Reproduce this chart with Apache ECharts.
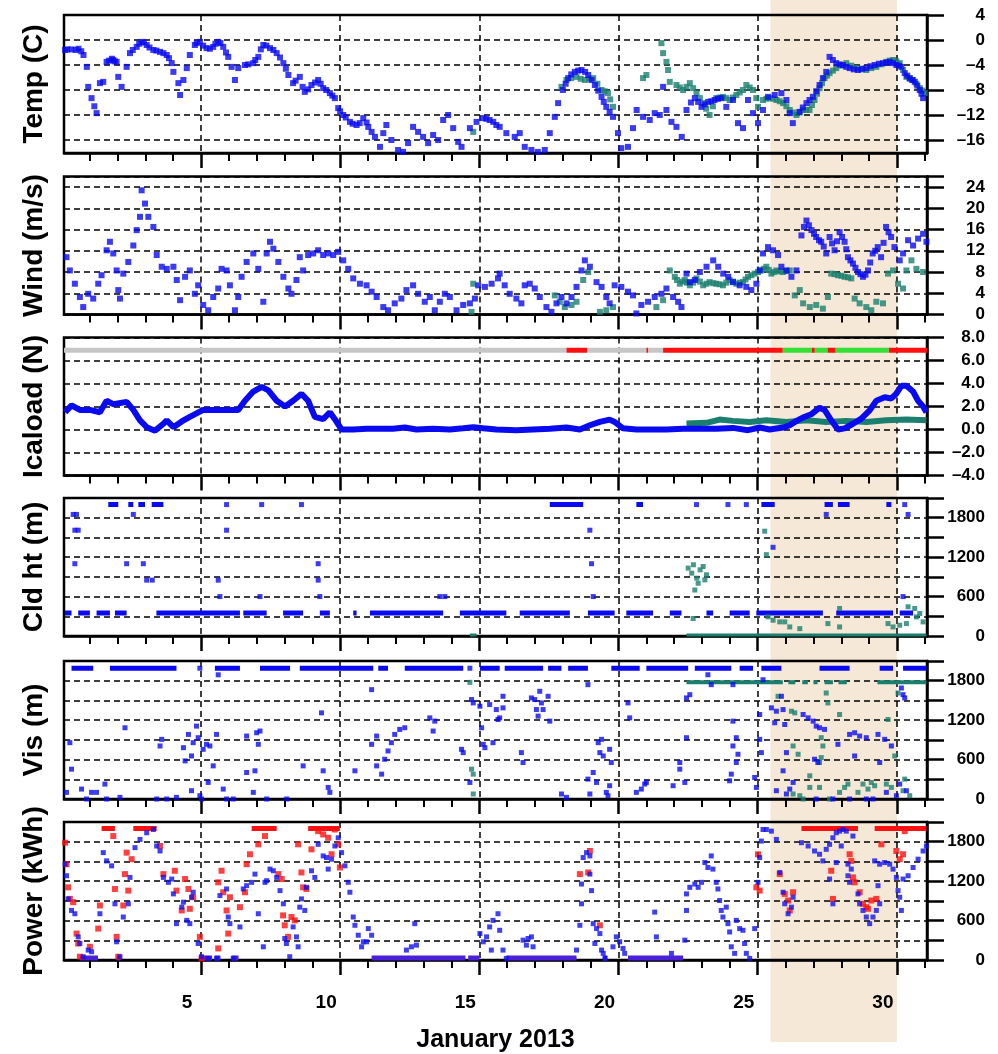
<!DOCTYPE html>
<html><head><meta charset="utf-8">
<script src="https://cdn.jsdelivr.net/npm/echarts@6/dist/echarts.min.js"></script>
<style>html,body{margin:0;padding:0;background:#fff}#c{width:998px;height:1054px}</style>
</head><body><div id="c"></div>
<script>
// ---------------- DATA ----------------
const dayTicks = [5, 10, 15, 20, 25, 30];
const dayRange = [0.08, 31.08];
const shadeDays = [25.46, 30.0];
const panelNames = ['Temp (C)', 'Wind (m/s)', 'Icaload (N)', 'Cld ht (m)', 'Vis (m)', 'Power (kWh)'];
const tempTicks = [-16, -12, -8, -4, 0, 4];
const windTicks = [0, 4, 8, 12, 16, 20, 24];
const iceTicks = [-4, -2, 0, 2, 4, 6, 8];
const hundredsTicks = [0, 300, 600, 900, 1200, 1500, 1800];
const hundredsLabels = [0, 600, 1200, 1800];

const tempObs = [[0.12,-1.6],[0.2,-1.5],[0.35,-1.5],[0.5,-1.6],[0.6,-1.4],[0.7,-1.8],[0.78,-2.4],[0.9,-4.3],[0.95,-7.5],[1.07,-9.3],[1.17,-10.6],[1.25,-11.7],[1.37,-6.9],[1.49,-6.7],[1.61,-3.5],[1.7,-3.3],[1.8,-3.0],[1.85,-3.2],[1.9,-3.4],[1.97,-3.5],[2.03,-5.9],[2.15,-7.5],[2.33,-4.3],[2.45,-2.1],[2.55,-1.6],[2.69,-1.1],[2.78,-0.6],[2.87,-0.3],[2.95,-0.4],[3.05,-0.8],[3.15,-1.2],[3.29,-1.6],[3.4,-1.7],[3.53,-1.9],[3.65,-2.1],[3.77,-2.4],[3.85,-2.9],[3.95,-3.7],[4.01,-5.1],[4.19,-6.9],[4.25,-8.8],[4.37,-6.4],[4.49,-4.5],[4.6,-2.4],[4.78,-0.8],[4.85,-0.5],[4.96,-0.3],[5.08,-0.9],[5.2,-1.3],[5.32,-1.4],[5.44,-1.1],[5.52,-0.6],[5.62,-0.3],[5.7,-0.5],[5.8,-1.1],[5.9,-2.0],[5.98,-2.7],[6.1,-4.3],[6.22,-6.4],[6.34,-4.5],[6.58,-4.0],[6.7,-3.9],[6.88,-3.7],[6.95,-3.2],[7.06,-2.7],[7.15,-1.5],[7.24,-0.8],[7.35,-0.9],[7.48,-1.3],[7.6,-1.6],[7.72,-2.1],[7.84,-2.8],[7.96,-3.7],[8.05,-4.6],[8.14,-5.6],[8.31,-6.9],[8.4,-6.5],[8.55,-5.9],[8.65,-7.5],[8.73,-8.3],[8.85,-7.9],[8.97,-7.2],[9.1,-6.8],[9.21,-6.4],[9.3,-7.0],[9.39,-7.7],[9.5,-8.0],[9.63,-8.5],[9.72,-8.9],[9.81,-9.3],[9.93,-10.9],[10.0,-11.4],[10.11,-12],[10.2,-12.4],[10.35,-13.1],[10.45,-13.4],[10.59,-13.6],[10.7,-13.3],[10.83,-12.5],[10.95,-13.2],[11.01,-13.9],[11.13,-14.7],[11.25,-15.5],[11.43,-17.1],[11.55,-14.9],[11.66,-13.6],[11.84,-16],[12.08,-17.6],[12.26,-17.9],[12.44,-16.5],[12.62,-13.9],[12.8,-14.7],[12.98,-15.5],[13.16,-16.5],[13.34,-15.2],[13.52,-16],[13.7,-12.8],[13.88,-12],[14.06,-14.1],[14.24,-16.3],[14.36,-17.1],[14.66,-14.1],[14.9,-13.1],[15.14,-12.5],[15.25,-12.6],[15.37,-12.8],[15.5,-13.1],[15.61,-13.6],[15.73,-13.9],[15.97,-14.9],[16.27,-15.5],[16.45,-14.9],[16.63,-17.1],[16.87,-17.6],[17.1,-17.9],[17.35,-17.6],[17.53,-14.9],[17.71,-12.3],[17.83,-10.1],[18.0,-8],[18.1,-7],[18.19,-6.1],[18.3,-5.5],[18.43,-5.1],[18.55,-4.9],[18.67,-4.8],[18.8,-5.1],[18.91,-5.6],[19.03,-6.4],[19.15,-7.2],[19.27,-8.1],[19.39,-9.1],[19.47,-9.9],[19.56,-10.7],[19.68,-11.5],[19.8,-12.3],[19.98,-14.9],[20.1,-17.3],[20.34,-17.1],[20.52,-14.1],[20.65,-11.2],[20.88,-12.3],[21.12,-12.8],[21.3,-11.7],[21.48,-12],[21.6,-7.5],[21.72,-11.2],[21.9,-13.1],[22.08,-13.9],[22.27,-15.5],[22.44,-11.2],[22.6,-10],[22.74,-9.3],[22.86,-9.9],[22.98,-10.7],[23.1,-10.3],[23.22,-9.9],[23.33,-9.8],[23.45,-9.6],[23.57,-9.4],[23.69,-9.3],[23.87,-10.7],[24.11,-9.6],[24.29,-13.3],[24.47,-14.1],[24.65,-9.6],[24.83,-11.7],[25.01,-13.3],[25.19,-11.2],[25.37,-9.1],[25.61,-8.8],[25.85,-8.5],[26.03,-9.6],[26.15,-11.7],[26.26,-13.3],[26.5,-11.5],[26.62,-10.8],[26.75,-10.1],[26.86,-9.6],[26.98,-9.1],[27.1,-8.2],[27.22,-7.2],[27.34,-6.1],[27.46,-5.1],[27.58,-2.7],[27.7,-3.2],[27.82,-3.7],[27.94,-3.9],[28.06,-4.0],[28.18,-4.3],[28.3,-4.5],[28.45,-4.7],[28.6,-4.8],[28.75,-4.6],[28.9,-4.5],[29.05,-4.2],[29.2,-4.0],[29.35,-3.8],[29.5,-3.7],[29.62,-3.6],[29.74,-3.5],[29.86,-3.7],[29.98,-4.0],[30.07,-4.1],[30.16,-4.3],[30.28,-5.3],[30.37,-5.7],[30.46,-6.1],[30.55,-6.4],[30.64,-6.7],[30.73,-7.3],[30.82,-8],[30.88,-8.6],[30.94,-9.3]];
const tempModel = [[14.78,-14.7],[17.95,-7.5],[18.13,-6.4],[18.3,-6.1],[18.49,-5.9],[18.64,-6.2],[18.79,-6.4],[18.94,-6.2],[19.09,-6.1],[19.24,-7.0],[19.39,-8],[19.5,-8.2],[19.62,-8.5],[19.7,-9.5],[19.8,-10.7],[20.88,-6.1],[21.0,-5.6],[21.54,-0.5],[21.6,-2.1],[21.72,-3.5],[21.78,-4.8],[21.84,-6.7],[22.08,-7.2],[22.2,-7.6],[22.32,-8],[22.44,-7.5],[22.56,-6.9],[22.68,-7.7],[22.8,-8.5],[22.92,-9.3],[23.04,-10.1],[23.15,-11],[23.27,-12],[23.39,-10.6],[23.51,-9.3],[23.63,-9.2],[23.75,-9.1],[23.87,-9.3],[23.99,-9.6],[24.11,-9.2],[24.23,-8.8],[24.35,-8.4],[24.47,-8],[24.59,-7.2],[24.71,-7.6],[24.83,-8],[24.95,-9.3],[25.01,-10.7],[25.19,-9.6],[25.31,-9.4],[25.43,-9.3],[25.55,-9.4],[25.67,-9.6],[25.79,-9.8],[25.91,-10.1],[26.03,-10.6],[26.15,-11.2],[26.27,-11.6],[26.39,-12],[26.5,-11.6],[26.62,-11.2],[26.74,-11.2],[26.86,-11.2],[26.95,-10.4],[27.04,-9.6],[27.13,-8.6],[27.22,-7.7],[27.31,-6.9],[27.4,-6.1],[27.49,-5.7],[27.58,-5.3],[27.7,-4.9],[27.82,-4.5],[28.0,-4.1],[28.18,-3.7],[28.36,-4.1],[28.54,-4.5],[28.72,-4.7],[28.9,-4.8],[29.08,-4.5],[29.26,-4.3],[29.44,-3.9],[29.62,-3.5],[29.74,-3.3],[29.86,-3.2],[29.98,-3.4],[30.1,-3.7],[30.22,-4.8],[30.34,-5.9],[30.46,-6.2],[30.58,-6.4],[30.7,-7.0],[30.82,-7.7],[30.91,-8.1],[31.0,-8.5]];

const windObs = [[0.17,10.8],[0.29,8.3],[0.47,5.8],[0.65,3.3],[0.77,1.4],[0.95,3.9],[1.13,3.0],[1.31,5.8],[1.43,7.4],[1.61,12.1],[1.73,13.7],[1.85,11.5],[1.97,8.3],[2.03,4.6],[2.09,3.0],[2.21,7.7],[2.39,9.9],[2.57,13.0],[2.69,15.9],[2.81,18.4],[2.87,23.4],[2.99,20.9],[3.11,18.4],[3.29,16.5],[3.41,11.2],[3.59,9.0],[3.77,8.6],[4.01,9.0],[4.13,6.5],[4.25,2.7],[4.43,7.1],[4.6,8.3],[4.78,3.9],[4.9,5.5],[5.08,1.8],[5.26,0.8],[5.44,3.3],[5.62,4.9],[5.74,8.6],[5.92,8.3],[6.04,5.5],[6.22,0.8],[6.34,3.3],[6.46,7.1],[6.64,9.9],[6.88,11.5],[7.06,8.6],[7.24,2.4],[7.36,11.5],[7.48,13.7],[7.6,12.4],[7.78,9.9],[7.96,7.1],[8.14,4.9],[8.25,3.9],[8.43,6.5],[8.55,10.8],[8.67,8.3],[8.85,11.2],[9.03,11.5],[9.21,12.1],[9.39,11.2],[9.57,11.5],[9.75,11.2],[9.93,11.8],[10.11,10.2],[10.29,8.6],[10.47,6.8],[10.71,5.8],[10.95,5.5],[11.13,4.3],[11.31,3.3],[11.55,1.4],[11.72,0.8],[11.96,2.1],[12.2,3.0],[12.38,4.6],[12.62,5.5],[12.8,3.9],[13.04,2.4],[13.22,3.3],[13.4,0.8],[13.58,2.4],[13.76,3.9],[13.94,3.3],[14.18,0.8],[14.42,1.8],[14.66,2.1],[14.84,3.0],[14.96,5.5],[15.2,5.2],[15.44,5.8],[15.67,6.8],[15.73,7.7],[15.91,5.5],[16.09,3.9],[16.33,3.0],[16.51,2.1],[16.63,5.5],[16.81,5.8],[16.99,4.9],[17.17,3.3],[17.41,1.4],[17.59,0.5],[17.77,2.1],[17.95,3.3],[18.13,2.1],[18.31,3.3],[18.49,5.2],[18.67,8.3],[18.79,10.2],[18.97,9.0],[19.21,6.1],[19.39,5.2],[19.56,3.3],[19.68,2.1],[19.86,5.5],[20.1,5.2],[20.34,4.3],[20.52,3.6],[20.64,0.2],[20.82,1.8],[21.06,2.4],[21.3,3.3],[21.54,3.9],[21.72,4.9],[21.96,3.3],[22.14,2.4],[22.26,1.4],[22.44,7.7],[22.56,6.1],[22.74,6.5],[22.92,8.0],[23.16,9.0],[23.4,10.2],[23.58,9.0],[23.76,7.7],[23.94,7.1],[24.11,6.1],[24.35,5.5],[24.59,5.2],[24.77,4.6],[24.95,5.8],[25.07,8.3],[25.19,11.5],[25.37,12.7],[25.55,12.1],[25.73,11.2],[25.85,9.0],[26.03,8.3],[26.21,7.1],[26.39,8.3],[26.57,14.9],[26.66,16.5],[26.75,17.7],[26.84,16.8],[26.93,15.9],[27.02,15.2],[27.1,14.6],[27.2,14.0],[27.28,13.7],[27.37,12.8],[27.46,11.5],[27.58,14.6],[27.67,13.4],[27.76,12.1],[27.85,13.8],[27.94,15.5],[28.03,14.6],[28.12,13.7],[28.18,12.3],[28.24,10.8],[28.33,10.2],[28.42,9.6],[28.51,8.8],[28.6,8.0],[28.69,7.6],[28.78,7.1],[28.87,7.5],[28.96,8.3],[29.04,9.8],[29.13,11.5],[29.22,12.0],[29.31,12.7],[29.43,10.8],[29.52,13.5],[29.61,16.5],[29.7,15.5],[29.79,14.6],[29.91,12.7],[30.1,10.2],[30.22,11.5],[30.4,14.0],[30.58,13.0],[30.76,14.3],[30.94,15.2],[31.06,13.7]];
const windModel = [[14.72,0.5],[14.78,5.8],[17.71,3.6],[17.89,2.4],[18.07,1.4],[18.31,1.8],[18.49,2.4],[18.73,6.5],[18.91,8.0],[19.33,0.5],[19.56,0.8],[19.8,1.4],[21.36,1.4],[21.6,2.7],[21.84,8.3],[22.02,7.1],[22.1,6.5],[22.2,5.8],[22.3,6.2],[22.38,6.5],[22.46,6.0],[22.56,5.5],[22.68,6.0],[22.8,6.8],[22.92,6.2],[23.04,5.5],[23.16,5.8],[23.27,6.1],[23.4,5.9],[23.51,5.8],[23.63,5.7],[23.75,5.5],[23.87,6.0],[23.99,6.5],[24.11,6.2],[24.23,5.8],[24.35,6.0],[24.47,6.1],[24.56,6.6],[24.65,7.1],[24.77,7.4],[24.89,7.7],[25.01,8.0],[25.13,8.3],[25.22,8.6],[25.31,9.0],[25.4,8.4],[25.49,7.7],[25.58,8.0],[25.67,8.3],[25.79,8.1],[25.91,8.0],[26.03,8.2],[26.15,8.3],[26.33,3.6],[26.51,4.6],[26.63,2.1],[26.87,1.4],[27.1,1.8],[27.34,1.1],[27.52,3.3],[27.64,7.7],[27.76,7.6],[27.88,7.4],[28.0,7.3],[28.12,7.1],[28.24,7.0],[28.36,6.8],[28.48,3.0],[28.66,2.1],[28.9,1.4],[29.08,0.8],[29.26,2.4],[29.5,2.1],[29.68,7.7],[29.86,8.3],[30.04,5.8],[30.22,4.9],[30.34,8.3],[30.52,10.2],[30.7,8.6],[30.94,8.0]];

const iceObs = [[0.12,1.5],[0.35,2.1],[0.65,1.7],[1.01,1.7],[1.37,1.5],[1.61,2.5],[1.85,2.2],[2.33,2.4],[2.57,1.7],[2.81,0.8],[3.05,0.2],[3.35,-0.1],[3.65,0.5],[3.77,0.8],[4.01,0.2],[4.31,0.7],[4.6,1.1],[4.84,1.4],[5.08,1.7],[5.56,1.7],[6.04,1.7],[6.34,1.7],[6.58,2.5],[6.88,3.3],[7.18,3.7],[7.42,3.4],[7.72,2.5],[8.02,2.0],[8.31,2.5],[8.61,3.1],[8.85,2.5],[9.09,1.1],[9.39,0.9],[9.63,1.5],[9.81,0.9],[10.05,0.0],[10.47,0.0],[10.95,0.06],[11.43,0.06],[11.9,0.06],[12.32,0.17],[12.74,0.0],[13.34,0.06],[13.94,0.0],[14.42,0.1],[14.78,0.2],[15.14,0.1],[15.61,0.0],[16.33,-0.06],[16.93,0.0],[17.53,0.06],[18.13,0.17],[18.61,0.0],[18.97,0.37],[19.33,0.66],[19.68,0.86],[19.86,0.66],[20.16,0.1],[20.64,0.0],[21.12,0.0],[21.72,0.0],[22.32,0.06],[22.92,0.06],[23.51,0.06],[24.11,0.14],[24.65,-0.06],[25.07,0.17],[25.43,0.0],[25.91,0.17],[26.15,0.37],[26.39,0.75],[26.62,1.04],[26.92,1.32],[27.22,1.9],[27.4,1.7],[27.64,0.8],[27.88,0.0],[28.12,0.1],[28.42,0.5],[28.72,0.95],[29.02,1.67],[29.26,2.5],[29.56,2.8],[29.8,2.7],[29.97,3.1],[30.16,3.8],[30.34,3.8],[30.58,3.3],[30.76,2.5],[30.94,2.0],[31.06,1.5]];
const iceModel = [[22.44,0.52],[23.16,0.58],[23.63,0.86],[24.11,0.75],[24.71,0.66],[25.31,0.8],[26.03,0.66],[26.75,0.8],[27.46,0.66],[28.18,0.75],[28.9,0.66],[29.61,0.8],[30.34,0.86],[31.06,0.8]];
// icing status bar: day boundaries and state per interval (0 no data, 1 iced, 2 clear)
const statusBreaks = [0.08, 18.13, 18.87, 21.0, 21.06, 21.6, 25.9, 26.93, 27.05, 27.5, 27.8, 29.7, 31.08];
const statusCodes = [0, 1, 0, 1, 0, 1, 2, 1, 2, 1, 2, 1];
const statusLevel = 6.9;

const cldRunsObs = [[0.11,0.35,350],[0.59,1.01,350],[1.25,1.73,350],[1.91,2.33,350],[3.4,6.4,350],[6.52,7.36,350],[7.95,8.67,350],[9.27,9.63,350],[10.47,10.59,350],[11.07,13.7,350],[14.3,15.97,350],[16.45,18.25,350],[18.9,19.86,350],[20.28,21.24,350],[21.84,22.26,350],[23.16,23.4,350],[23.99,24.71,350],[24.95,27.34,350],[27.82,29.86,350],[30.1,30.58,350],[1.67,2.03,2000],[2.39,2.57,2000],[2.75,2.99,2000],[3.23,3.65,2000],[17.53,18.73,2000],[20.64,20.88,2000],[25.13,25.61,2000],[27.4,27.7,2000],[27.88,28.3,2000],[29.62,29.8,2000]];
const cldObs = [[5.92,2000],[7.18,2000],[8.61,2000],[22.8,2000],[23.93,2000],[24.59,2000],[30.28,2000],[0.41,1850],[0.53,1850],[2.57,1850],[0.47,1610],[0.59,1610],[5.92,1610],[0.47,1100],[2.33,1100],[2.93,1100],[9.21,1100],[3.05,850],[3.25,850],[5.62,850],[9.21,850],[5.68,600],[7.12,600],[9.27,600],[13.58,600],[13.76,600],[27.46,1850],[30.4,1850],[18.97,1610],[19.03,1100],[19.09,600],[30.22,600],[25.55,1350]];
const cldRunsModel = [[14.66,14.9,15],[22.44,31.06,15]];
const cldModel = [[22.5,1033],[22.63,956],[22.69,1084],[22.81,880],[22.93,1007],[23.04,1058],[22.86,803],[22.74,700],[23.16,931],[23.1,854],[22.68,266],[25.25,1595],[25.31,1238],[25.37,292],[25.55,240],[25.79,215],[25.97,215],[26.15,138],[26.51,112],[27.52,189],[27.94,138],[27.94,419],[29.68,189],[29.86,138],[30.1,164],[30.34,189],[30.4,445],[30.64,419],[30.82,343],[30.94,215],[30.7,291]];

const visRunsObs = [[0.35,1.13,1990],[1.73,4.12,1990],[5.5,6.4,1990],[7.12,8.2,1990],[8.55,11.19,1990],[11.37,11.72,1990],[12.32,14.42,1990],[15.02,15.73,1990],[15.91,17.29,1990],[17.47,17.95,1990],[18.19,18.9,1990],[19.74,20.76,1990],[21.0,22.5,1990],[22.74,24.05,1990],[24.35,24.83,1990],[25.13,25.85,1990],[27.22,28.3,1990],[29.38,29.86,1990],[30.22,31.06,1990]];
const visObs = [[4.96,1990],[14.66,1990],[5.62,1890],[0.17,101],[0.29,857],[0.35,454],[0.71,151],[0.89,0],[1.07,101],[1.25,101],[1.55,227],[1.61,0],[2.09,25],[2.27,1084],[3.53,807],[3.59,908],[3.41,0],[3.77,0],[4.12,25],[4.37,781],[4.43,580],[4.55,983],[4.66,655],[4.72,857],[4.84,1109],[4.9,933],[4.66,126],[4.96,50],[5.02,0],[5.08,756],[5.2,832],[5.32,807],[5.44,504],[5.26,252],[5.56,983],[5.8,151],[5.92,0],[6.16,0],[6.64,958],[6.64,403],[6.94,429],[7.0,1008],[7.12,1034],[7.06,832],[6.88,101],[7.36,0],[8.08,0],[8.67,504],[9.33,1311],[9.39,429],[9.57,176],[9.63,101],[11.13,1664],[10.53,429],[11.13,832],[11.31,958],[11.31,504],[11.49,378],[11.6,605],[11.72,731],[11.84,857],[11.96,983],[12.14,1059],[12.32,1084],[13.22,1235],[13.4,1185],[13.34,1034],[14.36,756],[14.42,706],[14.66,252],[14.72,1513],[14.78,1462],[15.02,1412],[15.08,1084],[15.14,832],[15.2,781],[15.37,1437],[15.49,857],[15.61,1361],[15.67,1210],[15.85,1563],[15.73,1235],[15.85,1387],[16.87,1538],[16.99,1513],[17.17,1639],[17.23,1462],[17.05,1361],[17.11,1261],[17.29,1361],[17.47,1563],[17.53,1185],[18.9,1740],[16.51,706],[16.57,555],[17.95,76],[18.13,25],[18.97,76],[18.9,303],[19.09,403],[19.21,252],[19.27,857],[19.39,908],[19.33,706],[19.45,655],[19.68,756],[19.74,555],[19.68,202],[19.56,101],[19.62,50],[20.34,1462],[20.4,1235],[20.64,101],[20.82,151],[21.0,252],[20.94,227],[21.96,202],[22.2,454],[22.2,555],[22.38,252],[22.44,933],[22.44,1538],[22.56,1588],[23.21,1891],[23.33,1740],[24.11,1185],[24.23,933],[24.11,807],[24.29,681],[24.23,555],[24.05,378],[23.99,277],[24.11,1740],[24.89,328],[24.95,176],[25.07,1286],[25.07,908],[25.13,706],[25.19,1815],[25.49,1387],[25.61,1160],[25.67,1336],[25.85,1563],[25.91,1361],[25.97,1134],[25.91,429],[26.03,706],[25.67,126],[26.03,76],[26.15,151],[26.27,252],[26.63,1286],[26.81,1235],[26.99,1185],[27.1,1109],[27.22,1084],[27.04,605],[27.16,555],[27.4,1059],[27.88,832],[28.3,983],[28.48,1008],[28.66,958],[28.48,655],[28.9,933],[29.32,983],[29.56,908],[29.8,807],[29.38,555],[28.3,0],[28.9,0],[29.62,101],[29.98,50],[30.1,227],[30.22,1588],[30.28,1538],[30.34,126],[30.16,1689],[27.7,0],[27.1,0],[29.14,0]];
const visRunsModel = [[22.44,25.9,1775],[26.1,26.35,1775],[26.6,26.8,1775],[27.0,27.15,1775],[27.4,27.7,1775],[27.9,28.2,1775],[29.3,31.06,1775]];
const visModel = [[14.66,1775],[14.72,454],[14.78,378],[14.78,76],[25.73,1563],[26.21,1336],[26.33,1311],[27.46,1613],[27.52,1462],[27.28,933],[27.34,807],[27.28,630],[27.22,555],[27.94,1286],[26.27,807],[26.45,681],[26.87,353],[26.87,176],[27.22,176],[26.51,50],[26.27,76],[27.94,101],[28.12,176],[28.24,227],[28.6,101],[28.78,227],[28.96,151],[29.08,252],[29.2,202],[29.68,1210],[29.92,655],[30.04,1613],[29.62,227],[29.8,176],[30.22,126],[30.28,303],[30.46,50],[26.63,0],[27.58,0]];

const powerRunsObs = [[0.65,1.3,30],[1.97,2.1,30],[4.96,5.4,30],[5.5,5.7,30],[6.1,6.35,30],[11.13,14.5,30],[14.6,15.0,30],[15.97,18.49,30],[19.45,19.6,30],[20.34,22.32,30]];
const powerRunsModel = [[1.43,1.91,2000],[2.57,3.41,2000],[6.82,7.72,2000],[8.85,9.99,2000],[26.57,28.6,2000],[29.2,31.06,2000]];
const powerObs = [[0.12,1458],[0.17,1282],[0.23,930],[0.35,754],[0.47,704],[0.59,352],[0.65,251],[0.77,50],[0.95,151],[1.07,126],[1.37,704],[1.49,1634],[1.61,1508],[1.79,1433],[1.91,855],[1.97,277],[2.09,50],[2.21,654],[2.39,855],[2.45,1257],[2.63,1710],[2.81,1835],[3.05,1936],[3.29,1986],[3.41,1735],[3.53,1659],[3.65,1257],[3.83,1182],[3.95,1232],[4.01,1006],[4.12,553],[4.31,804],[4.37,880],[4.49,603],[4.6,553],[4.66,955],[4.72,1031],[4.9,251],[5.02,50],[5.26,25],[5.56,25],[5.68,980],[5.92,1081],[5.98,654],[6.04,553],[6.16,25],[6.4,503],[6.52,1081],[6.64,1131],[6.82,1182],[6.94,1307],[7.06,704],[7.24,201],[7.3,1182],[7.36,1207],[7.48,1383],[7.6,1358],[7.72,1257],[7.84,1056],[7.96,855],[8.01,327],[8.07,251],[8.19,50],[8.31,503],[8.43,352],[8.49,201],[8.55,804],[8.61,930],[8.73,754],[8.79,1106],[8.97,1358],[9.09,1257],[9.21,1760],[9.39,1584],[9.51,1559],[9.57,1383],[9.69,1534],[9.81,1735],[9.93,1860],[10.05,1634],[10.17,1433],[10.29,1182],[10.35,1031],[10.47,654],[10.53,528],[10.65,377],[10.77,201],[10.83,277],[10.95,277],[11.01,478],[11.13,377],[12.38,151],[12.56,201],[12.68,553],[12.74,226],[15.02,402],[15.14,277],[15.26,352],[15.37,503],[15.49,603],[15.67,704],[15.43,151],[15.73,452],[15.85,151],[15.97,25],[16.57,302],[16.75,327],[16.87,352],[16.93,201],[16.69,226],[18.49,151],[18.61,528],[18.67,855],[18.67,1156],[18.73,1559],[18.85,1634],[18.97,1584],[18.97,1307],[19.03,1056],[19.09,553],[19.21,478],[19.33,402],[19.15,251],[19.39,151],[19.45,101],[19.51,25],[19.8,201],[19.92,352],[20.04,277],[20.16,176],[20.22,101],[21.3,729],[21.36,352],[21.9,101],[22.38,302],[22.44,754],[22.44,1006],[22.56,1106],[22.74,1156],[22.86,1106],[22.98,1182],[23.1,1483],[23.21,1408],[23.33,1584],[23.39,1383],[23.51,1182],[23.57,1081],[23.63,905],[23.69,754],[23.75,654],[23.87,804],[23.93,553],[23.99,427],[24.05,201],[24.17,101],[24.23,603],[24.35,478],[24.47,452],[24.53,251],[24.59,101],[24.71,25],[24.89,478],[25.01,1182],[25.07,1559],[25.13,1810],[25.19,1986],[25.31,1986],[25.49,1961],[25.67,1835],[25.79,1332],[25.91,1031],[25.97,855],[26.09,704],[26.21,804],[26.27,955],[26.57,1785],[26.81,1735],[27.04,1659],[27.22,1609],[27.34,1508],[27.46,1684],[27.58,1760],[27.7,1860],[27.82,1936],[27.94,1961],[28.06,1986],[28.18,1961],[28.42,1886],[27.7,855],[27.82,1483],[27.58,1232],[28.0,1735],[28.24,1458],[28.36,1383],[28.24,1282],[28.3,1182],[28.6,1006],[28.66,855],[28.78,754],[28.9,654],[29.02,553],[29.14,654],[29.26,754],[29.2,1508],[29.38,1458],[29.56,1483],[29.74,1458],[29.86,1383],[29.98,1257],[30.04,1056],[30.1,955],[30.16,754],[30.22,1232],[30.4,1282],[30.58,1408],[30.76,1534],[30.94,1659],[31.06,1735],[29.38,855],[29.32,1131]];
const powerModel = [[0.12,1785],[0.17,1458],[0.23,1106],[0.29,930],[0.41,880],[0.53,402],[0.59,251],[0.65,50],[1.01,201],[1.31,478],[1.37,830],[1.85,1886],[1.91,1081],[1.97,352],[2.03,50],[2.21,830],[2.27,1307],[2.33,1634],[2.39,1056],[2.51,1534],[3.53,1735],[3.65,1307],[4.06,1358],[4.12,1056],[4.31,754],[4.43,1232],[4.55,1081],[4.6,779],[4.72,955],[4.96,352],[5.02,25],[5.62,176],[5.62,1182],[5.74,1358],[5.8,1031],[5.92,754],[5.98,402],[6.04,955],[6.4,804],[6.58,1031],[6.64,1458],[6.76,1609],[7.06,1760],[7.3,1886],[7.78,1307],[7.9,1232],[7.95,679],[8.01,528],[8.13,352],[8.25,654],[8.37,603],[8.49,1760],[8.61,1332],[8.67,1106],[8.79,1081],[8.97,1684],[9.21,1961],[9.39,1911],[9.57,1860],[9.69,1609],[9.81,1986],[9.93,1760],[9.99,1408],[18.61,1307],[18.91,1332],[19.33,528],[18.97,1659],[25.01,1609],[25.07,1056],[24.95,1106],[25.79,1307],[25.97,1006],[26.09,905],[26.27,1031],[26.15,754],[27.64,1358],[27.7,930],[28.3,1609],[28.36,1508],[28.42,1257],[28.48,1182],[28.66,1031],[28.78,855],[28.9,804],[28.96,779],[29.08,905],[29.26,930],[29.44,1760],[29.98,1659],[30.1,1534],[30.22,1609],[30.28,1961]];

// ---------------- CHART ----------------
const FONT = "'Liberation Sans', Arial, Helvetica, sans-serif";
const BLUE = '#0a0af0', TEAL = '#1a7f6e', RED = '#ff1010', GREEN = '#33e033', GRAY = '#c6c6c6';
const tops = [15, 176.5, 337.5, 498, 661, 822];
const H = 138, LEFT = 64, W = 863;

function runsToLine(runs) {
  const out = [];
  runs.forEach(r => { out.push([r[0], r[2]], [r[1], r[2]], [r[1], '-']); });
  return out;
}
const dash = { type: [6, 4], color: '#000', width: 1.5 };
const minus = v => (v < 0 ? '\u2013' + Math.abs(v) : String(v));

const yCfg = [
  { min: -18.08, max: 4, ticks: tempTicks, labels: tempTicks, fmt: v => minus(v) },
  { min: 0, max: 26, ticks: windTicks.concat([26]), labels: windTicks, fmt: v => String(v) },
  { min: -4, max: 8, ticks: iceTicks, labels: iceTicks, fmt: v => (v < 0 ? '\u2013' + Math.abs(v).toFixed(1) : v.toFixed(1)) },
  { min: 0, max: 2100, ticks: hundredsTicks.concat([2100]), labels: hundredsLabels, fmt: v => String(v) },
  { min: 0, max: 2100, ticks: hundredsTicks.concat([2100]), labels: hundredsLabels, fmt: v => String(v) },
  { min: 0, max: 2100, ticks: hundredsTicks.concat([2100]), labels: hundredsLabels, fmt: v => String(v) }
];

const grid = [], xAxis = [], yAxis = [], series = [];
// full-height background grid for the highlighted period (index 0, drawn first)
grid.push({ left: LEFT, width: W, top: 0, height: 1042, show: false });
xAxis.push({ gridIndex: 0, type: 'value', min: dayRange[0], max: dayRange[1], show: false });
yAxis.push({ gridIndex: 0, type: 'value', min: 0, max: 1, show: false });
series.push({
  type: 'custom', xAxisIndex: 0, yAxisIndex: 0, z: -10, silent: true, clip: false,
  data: [[shadeDays[0], shadeDays[1]]],
  renderItem: function (params, api) {
    const p0 = api.coord([api.value(0), 1]);
    const p1 = api.coord([api.value(1), 0]);
    return { type: 'rect', shape: { x: p0[0], y: p0[1], width: p1[0] - p0[0], height: p1[1] - p0[1] },
      style: { fill: '#f6e8d6' } };
  }
});

for (let i = 0; i < 6; i++) {
  const g = i + 1;
  grid.push({ left: LEFT, width: W, top: tops[i], height: H, show: true, borderColor: '#000', borderWidth: 2.5, backgroundColor: 'transparent' });
  xAxis.push({
    gridIndex: g, type: 'value', min: dayRange[0], max: dayRange[1],
    axisLine: { show: true, onZero: false, lineStyle: { color: '#000', width: 2.5 } },
    axisTick: { show: true, customValues: dayTicks, length: 15, lineStyle: { color: '#000', width: 2.5 } },
    minorTick: { show: true, splitNumber: 5, length: 8, lineStyle: { color: '#000', width: 2 } },
    splitLine: { show: true, lineStyle: dash },
    axisLabel: { show: i === 5, customValues: dayTicks, margin: 33, padding: [0, 28, 0, 0], fontFamily: FONT, fontSize: 19, fontWeight: 'bold', color: '#000' },
    name: i === 5 ? 'January 2013' : '', nameLocation: 'middle', nameGap: 68,
    nameTextStyle: { fontFamily: FONT, fontSize: 25, fontWeight: 'bold', color: '#000' }
  });
  const c = yCfg[i];
  yAxis.push({
    gridIndex: g, type: 'value', position: 'right', min: c.min, max: c.max,
    axisLine: { show: true, onZero: false, lineStyle: { color: '#000', width: 2.5 } },
    axisTick: { show: true, customValues: c.ticks, length: 17, lineStyle: { color: '#000', width: 2.5 } },
    splitLine: { show: true, lineStyle: dash },
    axisLabel: { customValues: c.labels, formatter: c.fmt, align: 'right', margin: 58, fontFamily: FONT, fontSize: 17, fontWeight: 'bold', color: '#000' }
  });
  yAxis.push({
    gridIndex: g, type: 'value', position: 'left', min: 0, max: 1,
    axisLine: { show: false }, axisTick: { show: false }, axisLabel: { show: false }, splitLine: { show: false },
    name: panelNames[i], nameLocation: 'middle', nameRotate: 90, nameGap: 16,
    nameTextStyle: { fontFamily: FONT, fontSize: 28, fontWeight: 'bold', color: '#000' }
  });
}

function pts(i, data, color, size, extra) {
  return Object.assign({ type: 'scatter', xAxisIndex: i + 1, yAxisIndex: 2 * i + 1, data: data, symbol: 'rect', symbolSize: size || 5,
    itemStyle: { color: color }, silent: true, z: 3 }, extra || {});
}
function runLine(i, runs, color, width) {
  return { type: 'line', xAxisIndex: i + 1, yAxisIndex: 2 * i + 1, data: runsToLine(runs), showSymbol: false, symbol: 'none',
    lineStyle: { color: color, width: width, cap: 'butt' }, silent: true, z: 3, connectNulls: false };
}
function curve(i, data, color, width) {
  return { type: 'line', xAxisIndex: i + 1, yAxisIndex: 2 * i + 1, data: data, showSymbol: false, symbol: 'none',
    lineStyle: { color: color, width: width }, silent: true, z: 3 };
}

// Temp
series.push(pts(0, tempModel, TEAL, 6));
series.push(pts(0, tempObs, BLUE, 6));
// Wind
series.push(pts(1, windModel, TEAL, 6));
series.push(pts(1, windObs, BLUE, 6));
// Iceload
const statusColors = [GRAY, RED, GREEN];
[0, 1, 2].forEach(code => {
  const runs = [];
  statusCodes.forEach((s, k) => { if (s === code) runs.push([statusBreaks[k], statusBreaks[k + 1], statusLevel]); });
  series.push(runLine(2, runs, statusColors[code], 5));
});
series.push(curve(2, iceModel, TEAL, 6));
series.push(curve(2, iceObs, BLUE, 6));
// Cloud height
series.push(runLine(3, cldRunsModel, TEAL, 3));
series.push(pts(3, cldModel, TEAL, 5));
series.push(runLine(3, cldRunsObs, BLUE, 5));
series.push(pts(3, cldObs, BLUE, 5));
// Visibility
series.push(runLine(4, visRunsModel, TEAL, 4));
series.push(pts(4, visModel, TEAL, 5));
series.push(runLine(4, visRunsObs, BLUE, 5));
series.push(pts(4, visObs, BLUE, 5));
// Power
series.push(runLine(5, powerRunsModel, RED, 5));
series.push(pts(5, powerModel, RED, 6));
series.push(runLine(5, powerRunsObs, '#4a20d8', 5));
series.push(pts(5, powerObs, '#1010f0', 5));

const chart = echarts.init(document.getElementById('c'), null, { renderer: 'canvas' });
chart.setOption({ animation: false, backgroundColor: '#fff', grid, xAxis, yAxis, series });
</script>
</body></html>
